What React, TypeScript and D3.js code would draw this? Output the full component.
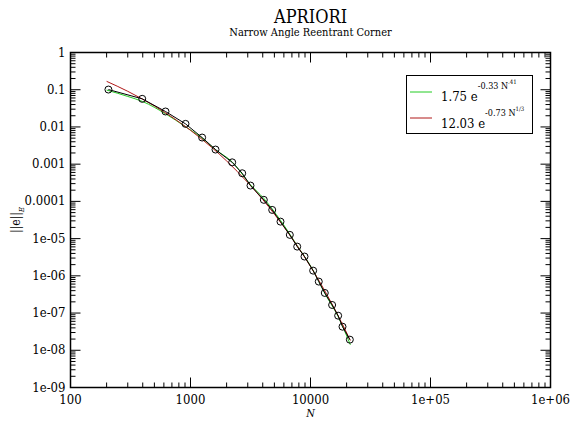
import React from "react";
import * as d3 from "d3";

// Data
const dataN = [207, 396, 619, 909, 1250, 1616, 2225, 2697, 3162, 4083, 4797, 5623, 6725, 7748, 8913, 10520, 11720, 13150, 15140, 17000, 18480, 21270];
const dataErr = [0.101, 0.0569, 0.026, 0.0121, 0.00519, 0.00247, 0.00112, 5.7e-4, 2.66e-4, 1.1e-4, 5.9e-5, 2.86e-5, 1.26e-5, 6.1e-6, 3.3e-6, 1.38e-6, 7e-7, 3.47e-7, 1.65e-7, 8.5e-8, 4.3e-8, 1.93e-8];

const greenN = [200, 300, 400, 620, 910, 1250, 1616, 2225, 3162, 4083, 5623, 7748, 10520, 13150, 17000, 21500];
const greenFit = [0.098, 0.066, 0.048, 0.0225, 0.0101, 0.005, 0.00245, 0.00115, 2.8e-4, 1.2e-4, 3.1e-5, 6.5e-6, 1.4e-6, 3.4e-7, 8e-8, 1.4e-8];
const redN = [200, 300, 500, 700, 1000, 1500, 2000, 3000, 4000, 5000, 7000, 10000, 14000, 18000, 21500];
const redFit = [0.168, 0.0907, 0.0366, 0.0184, 0.00812, 0.00283, 0.00122, 3.22e-4, 1.12e-4, 4.56e-5, 1.03e-5, 1.78e-6, 2.75e-7, 5.9e-8, 1.83e-8];

const xTicks = [100, 1000, 10000, 100000, 1000000];
const xTickLabels = ["100", "1000", "10000", "1e+05", "1e+06"];
const yTicks = [1, 0.1, 0.01, 0.001, 0.0001, 1e-5, 1e-6, 1e-7, 1e-8, 1e-9];
const yTickLabels = ["1", "0.1", "0.01", "0.001", "0.0001", "1e-05", "1e-06", "1e-07", "1e-08", "1e-09"];

const W = 570, H = 421;
const L = 70.5, R = 550.5, T = 52.5, B = 387.5;

export default function App() {
  const x = d3.scaleLog().domain([100, 1e6]).range([L, R]);
  const y = d3.scaleLog().domain([1e-9, 1]).range([B, T]);

  const line = d3.line<[number, number]>().x(d => x(d[0])).y(d => y(d[1]));
  const dataPts: [number, number][] = dataN.map((n, i) => [n, dataErr[i]]);
  const greenPts: [number, number][] = greenN.map((n, i) => [n, greenFit[i]]);
  const redPts: [number, number][] = redN.map((n, i) => [n, redFit[i]]);
  const smooth = d3.line<[number, number]>().x(d => x(d[0])).y(d => y(d[1])).curve(d3.curveMonotoneX);

  const xMinor: number[] = [];
  for (let e = 2; e < 6; e++) for (let m = 2; m <= 9; m++) xMinor.push(m * Math.pow(10, e));
  const yMinor: number[] = [];
  for (let e = -9; e < 0; e++) for (let m = 2; m <= 9; m++) yMinor.push(m * Math.pow(10, e));

  const MAJ = 10, MIN = 5;

  return (
    <svg width={W} height={H} fontFamily="DejaVu Serif" style={{ position: "absolute", left: 0, top: 0, background: "#fff", fontStretch: "condensed" }}>
      <rect x={0} y={0} width={W} height={H} fill="#fff" />
      <text x={(L + R) / 2} y={23} textAnchor="middle" fontSize={18}>APRIORI</text>
      <text x={(L + R) / 2} y={36} textAnchor="middle" fontSize={11}>Narrow Angle Reentrant Corner</text>

      {/* fits */}
      <path d={smooth(greenPts) || ""} fill="none" stroke="#22cc22" strokeWidth={1} />
      <path d={smooth(redPts) || ""} fill="none" stroke="#b01818" strokeWidth={1} />
      {/* data */}
      <path d={line(dataPts) || ""} fill="none" stroke="#000" strokeWidth={1} />
      {dataPts.map((d, i) => (
        <circle key={i} cx={x(d[0])} cy={y(d[1])} r={3.5} fill="none" stroke="#000" strokeWidth={1} />
      ))}

      {/* frame */}
      <rect x={L} y={T} width={R - L} height={B - T} fill="none" stroke="#000" strokeWidth={1.5} />

      {/* x ticks */}
      {xTicks.map((t, i) => (
        <g key={"xt" + i}>
          <line x1={x(t)} x2={x(t)} y1={B} y2={B - MAJ} stroke="#000" />
          <line x1={x(t)} x2={x(t)} y1={T} y2={T + MAJ} stroke="#000" />
          <text x={x(t)} y={404} textAnchor="middle" fontSize={13}>{xTickLabels[i]}</text>
        </g>
      ))}
      {xMinor.map((t, i) => (
        <g key={"xm" + i}>
          <line x1={x(t)} x2={x(t)} y1={B} y2={B - MIN} stroke="#000" />
          <line x1={x(t)} x2={x(t)} y1={T} y2={T + MIN} stroke="#000" />
        </g>
      ))}
      {/* y ticks */}
      {yTicks.map((t, i) => (
        <g key={"yt" + i}>
          <line x1={L} x2={L + MAJ} y1={y(t)} y2={y(t)} stroke="#000" />
          <line x1={R} x2={R - MAJ} y1={y(t)} y2={y(t)} stroke="#000" />
          <text x={L - 5} y={y(t) + 4} textAnchor="end" fontSize={13}>{yTickLabels[i]}</text>
        </g>
      ))}
      {yMinor.map((t, i) => (
        <g key={"ym" + i}>
          <line x1={L} x2={L + MIN} y1={y(t)} y2={y(t)} stroke="#000" />
          <line x1={R} x2={R - MIN} y1={y(t)} y2={y(t)} stroke="#000" />
        </g>
      ))}

      {/* axis labels */}
      <text x={(L + R) / 2} y={417} textAnchor="middle" fontSize={11} fontStyle="italic">N</text>
      <text transform={`translate(20, ${(T + B) / 2}) rotate(-90)`} textAnchor="middle" fontSize={12}>
        ||e||<tspan fontSize={8} fontStyle="italic" dy={4}>E</tspan>
      </text>

      {/* legend */}
      <rect x={406.5} y={75.5} width={126} height={58} fill="#fff" stroke="#000" strokeWidth={1} />
      <line x1={410} x2={432} y1={92} y2={92} stroke="#22cc22" strokeWidth={1} />
      <line x1={410} x2={432} y1={118} y2={118} stroke="#b01818" strokeWidth={1} />
      <text x={441} y={101} fontSize={13}>
        1.75 e<tspan fontSize={9} dy={-12}>-0.33 N</tspan><tspan fontSize={6} dy={-5}>.41</tspan>
      </text>
      <text x={441} y={128} fontSize={13}>
        12.03 e<tspan fontSize={9} dy={-12}>-0.73 N</tspan><tspan fontSize={6} dy={-5}>1/3</tspan>
      </text>
    </svg>
  );
}
